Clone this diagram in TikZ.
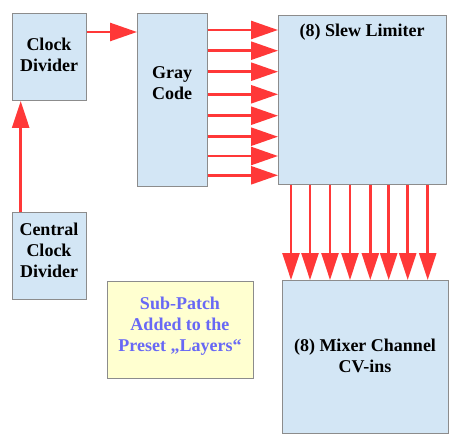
\documentclass[tikz,border=0pt]{standalone}
\usepackage{fontspec}
\setmainfont{Liberation Serif}
\usetikzlibrary{arrows.meta}
\definecolor{boxfill}{RGB}{211,230,245}
\definecolor{boxline}{RGB}{140,140,140}
\definecolor{arrred}{RGB}{255,56,56}
\definecolor{notefill}{RGB}{255,255,208}
\definecolor{notetext}{RGB}{104,104,245}
\tikzset{
  blk/.style={draw=boxline, line width=1pt, fill=boxfill, rectangle, inner sep=0pt, anchor=north west},
  notebox/.style={draw=boxline, line width=1pt, fill=notefill, rectangle, inner sep=0pt, anchor=north west},
  lbl/.style={align=center, font=\fontsize{18}{21}\selectfont\bfseries, inner sep=0pt},
  arr/.style={draw=arrred, line width=2.6pt, -{Triangle[length=27pt,width=18pt]}, arrred},
  varr/.style={draw=arrred, line width=2.6pt, -{Triangle[length=27pt,width=17pt]}, arrred}
}
\begin{document}
\begin{tikzpicture}[x=1pt,y=-1pt]
\useasboundingbox (0,0) rectangle (462,446);
\node[blk, minimum width=74pt, minimum height=87pt] (clk) at (12,13) {};
\node[lbl] (clkt) at (49,55) {Clock\\Divider};
\node[blk, minimum width=74pt, minimum height=87pt] (cen) at (12,212) {};
\node[lbl] (cent) at (49,250) {Central\\Clock\\Divider};
\node[blk, minimum width=70pt, minimum height=173pt] (gray) at (137,13) {};
\node[lbl] (grayt) at (172,83) {Gray\\Code};
\node[blk, minimum width=168pt, minimum height=169pt] (slew) at (278,15) {};
\node[lbl] (slewt) at (362,32) {(8) Slew Limiter};
\node[blk, minimum width=166pt, minimum height=153pt] (mix) at (282,280) {};
\node[lbl] (mixt) at (365,356) {(8) Mixer Channel\\CV-ins};
\node[notebox, minimum width=146pt, minimum height=97pt] (note) at (107,281) {};
\node[lbl, text=notetext] (notet) at (180,326.5) {Sub-Patch\\Added to the\\Preset „Layers“};
\draw[varr] (cen.north -| 20.7,0) -- (clk.south -| 20.7,0);
\draw[arr] (clk.east |- 0,32) -- (gray.west |- 0,32);
\foreach \y in {30,50.7,71.7,94.3,115.7,136.7,156,175.3}
  \draw[arr] (gray.east |- 0,\y) -- (slew.west |- 0,\y);
\foreach \x in {291,310,330,350,370.3,388.7,407.7,427.7}
  \draw[varr] (slew.south -| \x,0) -- (mix.north -| \x,0);
\end{tikzpicture}
\end{document}
